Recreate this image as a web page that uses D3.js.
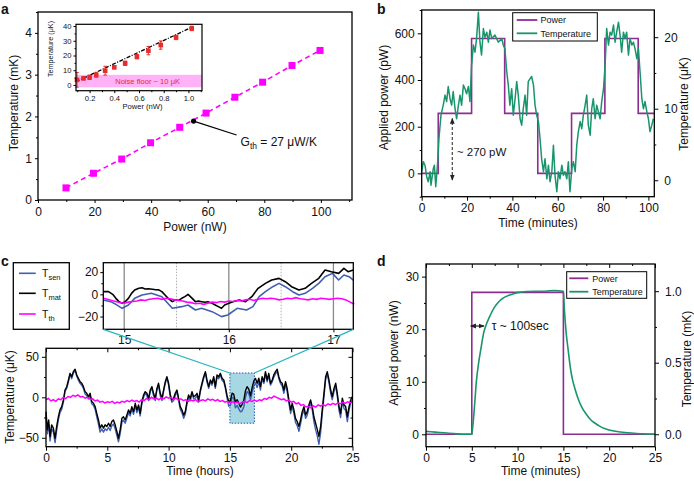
<!DOCTYPE html>
<html><head><meta charset="utf-8">
<script src="https://cdn.jsdelivr.net/npm/d3@7/dist/d3.min.js"></script>
<style>html,body{margin:0;padding:0;background:#fff}</style>
</head><body>
<script>
// ================= DATA =================
// Panel a (main)
const aPower = [9.9,19.6,29.6,39.8,50.1,59.4,69.6,79.4,89.8,99.7];
const aTemp  = [0.29,0.64,0.98,1.37,1.74,2.08,2.46,2.82,3.22,3.58];
const aXTicks = [0,20,40,60,80,100];
const aYTicks = [0,1,2,3,4];
// Panel a (inset)
const aiPower = [0.098,0.151,0.2,0.254,0.326,0.40,0.488,0.583,0.676,0.776,0.9,1.027];
const aiTemp  = [3.5,4.5,5.2,6.8,9.7,12,14.7,19.2,23.3,27.1,32.3,38.4];
const aiErr   = [5,1,1.5,1.5,3,1,1.5,1.5,2.8,2.8,1.5,1.5];
const aiFitP  = [0.09,1.03];
const aiFitT  = [2.2,39.3];
const aiXTicks = [0.2,0.4,0.6,0.8,1.0];
const aiYTicks = [0,10,20,30,40];
// Panel b
const bStepTime  = [0,7.3,22.0,36.6,51.2,66.1,80.8,95.5,102.6];
const bStepPower = [0,257,578,257,0,257,578,257,257];
const bTime = [0,0.7,1.45,2.2,2.9,3.7,4.1,5.1,5.6,6.2,
 7.0,7.6,8.5,9.5,10.3,11.0,11.7,12.5,13.2,13.9,
 14.7,15.4,16.2,16.9,17.6,18.4,19.1,19.8,20.6,21.3,
 22.0,22.8,23.5,24.2,25.0,25.7,26.4,27.2,27.9,28.7,
 29.4,30.1,30.9,32.3,33.8,35.3,36.0,36.7,37.5,38.2,
 38.9,39.7,40.4,41.2,41.9,42.6,43.4,44.1,44.8,45.6,
 46.3,47.0,47.8,48.5,49.3,50.0,50.7,51.5,52.2,52.9,
 53.7,54.4,55.2,55.9,56.6,57.4,58.1,58.8,59.6,60.3,
 61.0,61.8,62.5,63.2,64.0,64.7,65.4,66.2,66.9,67.7,
 68.4,69.1,69.9,70.6,71.3,72.1,72.8,73.5,74.3,75.0,
 75.7,76.5,77.2,77.9,78.7,79.4,80.2,80.9,81.6,82.4,
 83.1,83.8,84.6,85.3,86.0,86.8,87.5,88.2,89.0,89.7,
 90.4,91.2,91.9,92.7,93.4,94.1,94.9,95.6,96.3,97.1,
 97.8,98.5,99.3,100.0,100.7,101.5,102.2];
const bTemp = [1.2,2.6,2.1,0.5,-0.2,1.2,-0.7,1.6,2.1,-0.9,
 2.3,5.8,9.1,10.5,11.9,11.0,13.1,11.4,10.5,12.4,
 10.0,8.6,10.5,11.9,10.5,13.3,12.8,12.1,13.1,11.0,
 16.1,18.9,17.9,19.8,23.5,19.3,17.5,21.2,20.0,20.7,
 19.3,21.0,19.8,20.3,19.3,19.8,18.9,18.4,15.2,13.3,
 10.5,12.8,9.1,11.4,13.8,11.9,8.6,7.7,10.0,11.9,
 9.1,13.8,14.2,14.5,13.3,10.5,9.1,8.2,5.8,3.0,
 1.2,3.0,0.2,2.1,-0.2,1.2,4.9,0.7,-1.6,1.2,
 0.2,2.1,0.7,1.2,0.2,2.6,-1.6,1.6,2.6,1.2,
 4.9,6.8,8.2,7.2,9.1,10.5,11.9,7.7,6.3,10.0,
 11.4,8.6,10.5,9.6,8.6,11.0,12.8,16.1,21.2,18.9,
 20.7,20.3,21.7,19.3,20.7,22.1,20.3,17.9,20.7,19.8,
 20.7,17.5,19.8,18.9,19.3,18.4,17.0,18.4,15.2,11.4,
 10.0,11.0,9.6,8.6,6.8,7.7,8.6];
const bXTicks = [0,20,40,60,80,100];
const bYLTicks = [0,200,400,600];
const bYRTicks = [0,10,20];
// Panel c (main)
const cHours = [0.00,0.11,0.22,0.33,0.46,0.60,0.74,0.87,1.01,1.14,
 1.28,1.42,1.55,1.69,1.83,1.96,2.10,2.23,2.37,2.51,
 2.64,2.78,2.92,3.05,3.19,3.32,3.46,3.60,3.73,3.87,
 4.01,4.14,4.28,4.41,4.55,4.69,4.82,4.96,5.10,5.23,
 5.37,5.50,5.64,5.78,5.91,6.05,6.19,6.32,6.46,6.59,
 6.73,6.87,7.00,7.14,7.28,7.41,7.55,7.68,7.82,7.96,
 8.09,8.23,8.37,8.50,8.64,8.77,8.91,9.05,9.18,9.32,
 9.46,9.59,9.73,9.86,10.00,10.14,10.27,10.41,10.54,10.68,
 10.82,10.95,11.09,11.23,11.36,11.50,11.63,11.77,11.91,12.04,
 12.18,12.32,12.45,12.59,12.72,12.86,13.00,13.13,13.27,13.41,
 13.54,13.68,13.81,13.95,14.09,14.22,14.36,14.50,14.63,14.77,
 14.90,15.04,15.18,15.31,15.45,15.59,15.72,15.86,15.99,16.13,
 16.27,16.40,16.54,16.68,16.81,16.95,17.08,17.22,17.36,17.49,
 17.63,17.77,17.90,18.04,18.17,18.31,18.45,18.58,18.72,18.86,
 18.99,19.13,19.26,19.40,19.54,19.67,19.81,19.95,20.08,20.22,
 20.35,20.49,20.63,20.76,20.90,21.04,21.17,21.31,21.44,21.58,
 21.72,21.85,21.99,22.13,22.26,22.40,22.53,22.67,22.81,22.94,
 23.08,23.22,23.35,23.49,23.63,23.76,23.90,24.03,24.17,24.31,
 24.44,24.58,24.72,24.85,25.00];
const cMat = [-17.7,-40,-28,-48.6,-34,-38,-50.6,-36,-24,-15.6,
 -11.5,-3.3,9,13,21.4,29.6,25.5,31.7,34.6,27.6,
 23.5,19.3,17.3,13.2,7,4.9,0.8,4.9,-5.3,-7.4,
 -11.5,-19.8,-28,-38,-34,-38,-34,-36,-32,-36,
 -30,-28,-34,-42,-50.6,-40,-26,-24,-28,-22,
 -15.6,-19.8,-11.5,-17.7,-7.4,-15.6,-9.5,-19.8,-5.3,2.9,
 7,4.9,-1.2,9,13.2,4.9,-1.2,11,17.3,4.9,
 -1.2,9,19.3,25.5,17.3,2.9,-3.3,-1.2,4.9,9,
 -1.2,-11.5,-15.6,-22,-17.7,-5.3,2.9,-1.2,7,0.8,
 2,4.9,-3.3,9,17.3,25.5,31.7,21.4,13.2,21.4,
 17.3,25.5,13.2,27.6,25.5,29.6,23.5,21.4,13.2,2,
 -5,-4,5,4,-6,-3,-7,-12,-9,-4,
 8,13,10,2,12,20,23.5,17.3,23.5,13.2,
 25.5,19.3,31.7,21.4,29.6,17.3,21.4,27.6,31.7,34.6,
 25.5,19.3,17.3,9,19.3,11,-3.3,-15.6,-7.4,-15.6,
 -26,-30,-36,-28,-17.7,-11.5,-21.8,-17.7,-9.5,-3.3,
 -11.5,-24,-32,-40,-48.6,-36,-15.6,4.9,25.5,31.7,
 21.4,9,0.8,11,17.3,4.9,-11.5,-19.8,-1.2,-9.5,
 -11.5,-24,-11.5,-3.3,0.8];
const cSen = [-22,-45,-33,-54,-39,-43,-56,-41,-28,-19,
 -15,-6,7,11,19,28,23,30,33,26,
 21,17,15,11,4,2,-2,2,-8,-10,
 -15,-24,-33,-43,-39,-43,-39,-41,-37,-41,
 -35,-33,-39,-47,-55,-45,-31,-28,-32,-26,
 -19,-23,-14,-21,-10,-19,-12,-23,-8,0,
 5,2,-4,7,11,2,-4,9,15,2,
 -4,7,17,24,15,0,-6,-4,2,7,
 -4,-15,-19,-26,-21,-8,0,-4,5,-2,
 -1,2,-6,7,15,23,30,19,11,19,
 15,23,11,25,23,28,21,19,11,-1,
 -11,-10,0,-1,-13,-10,-14,-18,-17,-12,
 0,7,5,-3,6,14,18,12,19,9,
 23,17,29,19,27,15,19,25,29,32,
 23,17,14,5,16,7,-7,-20,-11,-20,
 -31,-35,-42,-33,-22,-15,-26,-22,-13,-7,
 -16,-30,-40,-48,-58,-44,-21,0,22,29,
 18,5,-3,7,14,1,-16,-25,-5,-14,
 -16,-30,-16,-7,-3];
const cThStart = 0, cThStep = 0.2;
const cTh = [-3,-1.5,-4.5,-3,-5,-2,-3,0,-1.5,1,
 0,2.5,1,3,0.5,1,-1,0,-2.5,-2,
 -4.5,-3.5,-6,-5,-7,-5.5,-6.5,-5,-7.5,-6,
 -7,-5,-6,-4,-5.5,-3.5,-5,-4,-6,-3,
 -4,-1.5,-3,0,-2,-1,-3,-0.5,-2,0.5,
 -1,0,-2.5,-1,-3.5,-2,-4,-3,-5,-3.5,
 -4.5,-3,-5.5,-4,-3,-4.5,-2,-3.5,-2.5,-4.5,
 -3,-5,-4,-6,-5,-7,-5.5,-7,-6,-8,
 -6,-5,-6.5,-4,-5,-3.5,-5,-3,-4,-1.5,
 -2.5,0,-1,1.5,0,-1.5,-3,-2,-4.5,-3.5,
 -6,-5,-8,-7,-10,-9,-12,-11,-13,-10.5,
 -12,-9.5,-11,-9,-10.5,-8,-9.5,-7.5,-9,-7,
 -8,-6,-7.5,-5.5,-7,-6];
const cXTicks = [0,5,10,15,20,25];
const cYTicks = [-50,0,50];
const cZoomHours = [15,17];
const cZoomTemp = [-32,30];
// Panel c (inset)
const ciMatH = [14.80,14.85,14.89,14.92,14.95,14.98,15.01,15.04,15.07,15.10,
 15.14,15.17,15.20,15.23,15.27,15.30,15.33,15.36,15.39,15.42,
 15.46,15.49,15.52,15.55,15.58,15.61,15.65,15.68,15.71,15.74,
 15.77,15.80,15.84,15.87,15.90,15.93,15.96,16.00,16.04,16.10,
 16.16,16.22,16.28,16.35,16.41,16.48,16.54,16.60,16.67,16.73,
 16.79,16.86,16.92,16.98,17.05,17.10,17.14,17.19];
const ciMat = [2.4,2.4,0,-3.6,-6.6,-8.1,-6.6,-3.6,0.9,3.9,
 5.4,6,4.8,5,4.6,4.2,4,2.4,-0.6,-3.6,
 -6.6,-5.1,-5.4,-3.6,-2.1,0,-3.6,-6.6,-6,-6.6,
 -7.2,-6.6,-8.1,-9.6,-11.1,-12.6,-9.6,-8,-6.6,-5.1,
 -6.6,-2.1,5.4,9.9,12.9,14.4,11.4,6.9,3.9,5.4,
 9.9,14.4,21.9,20.4,18.9,23.4,20.4,21.9];
const ciSenH = [14.80,14.87,14.92,14.98,15.04,15.10,15.17,15.26,15.36,15.46,
 15.55,15.61,15.68,15.74,15.84,15.93,15.99,16.08,16.17,16.23,
 16.29,16.35,16.42,16.48,16.54,16.61,16.67,16.73,16.80,16.86,
 16.92,16.99,17.05,17.10,17.15,17.19];
const ciSen = [-5.1,-6.6,-9,-12.6,-9.6,-3.6,-0.6,0.9,-2.1,-12.6,
 -11.1,-9.6,-14.1,-12.6,-15.6,-20.1,-18.6,-12.6,-14.1,-11.1,
 -2.1,2.4,6.9,9.9,6.9,2.4,-0.6,0.9,5.4,9.9,
 15.9,18.9,12.9,17.4,15.9,12.9];
const ciThStart = 14.8, ciThStep = 0.04;
const ciTh = [-3.6,-4.5,-5.5,-6.5,-7.5,-8,-7,-6.5,-6,-5,
 -5.5,-4.5,-4,-3.5,-4.5,-3.5,-4,-5,-5.5,-6,
 -7,-7.5,-8.5,-8,-9,-8,-7,-7.5,-6.5,-7,
 -6,-6.5,-5.5,-6,-5,-4.5,-5.5,-4.5,-3.5,-4,
 -3.5,-4,-5,-4.5,-3.5,-4,-3,-4,-4.5,-5,
 -4,-4.5,-3.5,-4,-4.5,-4,-3.5,-4,-5,-7,-9];
const ciXTicks = [15,16,17];
const ciYTicks = [-20,0,20];
const ciSolidLines = [15,16,17];
const ciDottedLines = [15.5,16.5];
// Panel d
const dStepTime  = [0,5,15,25];
const dStepPower = [0,27,0,0];
const dTime = [0,1,2,3,4,5,5.1,5.3,5.5,5.75,6,6.3,6.6,7,7.5,8,
 8.5,9,9.5,10,11,12,13,14,15,15.1,15.3,15.5,15.75,16,16.3,16.6,17,17.5,18,
 18.5,19,19.5,20,21,22,23,24,25];
const dTemp = [0.02,0.015,0.01,0.005,0.0,0.0,0.05,0.2,0.37,0.5,0.6,0.71,0.77,0.83,0.89,0.93,
 0.955,0.97,0.98,0.99,0.998,1.0,1.0,1.005,1.0,0.88,0.71,0.6,0.47,0.38,0.31,0.25,0.19,0.14,0.1,
 0.075,0.055,0.04,0.03,0.018,0.01,0.005,0.002,0.0];
const dXTicks = [0,5,10,15,20,25];
const dYLTicks = [0,10,20,30];
const dYRTicks = [0,0.5,1.0];

// ================= DRAWING =================
const FONT = "'Liberation Sans', Arial, Helvetica, sans-serif";
const MAG = "#ff00ff", PURPLE = "#8e2c90", GREEN = "#18956b", BLUE = "#3f5fb0",
      CYAN = "#29b6c1", RED = "#e82b2b";
const svg = d3.select("body").append("svg").attr("width",694).attr("height",481)
  .style("font-family", FONT).style("background","#fff");

const defs = svg.append("defs");
defs.append("marker").attr("id","ah").attr("viewBox","0 0 8 8").attr("refX",7).attr("refY",4)
  .attr("markerWidth",6).attr("markerHeight",6).attr("orient","auto-start-reverse")
  .attr("markerUnits","userSpaceOnUse")
  .append("path").attr("d","M0,0.8 L8,4 L0,7.2 Z").attr("fill","#222");

function axis(fn, scale, tr, major, minor, fmt, fs, o = {}) {
  const len = o.len ?? 4, mlen = o.mlen ?? 2, pad = o.pad ?? 3;
  const a = fn(scale).tickValues(major).tickSize(len).tickSizeOuter(0).tickPadding(pad)
    .tickFormat(fmt === null ? () => "" : (fmt || (d => d3.format("")(d))));
  const G = svg.append("g").attr("transform", tr).call(a);
  G.select(".domain").remove();
  G.attr("font-family", FONT);
  G.selectAll(".tick line").attr("stroke","#000").attr("stroke-width",1);
  G.selectAll(".tick text").attr("font-size", fs).attr("fill","#111");
  if (minor && minor.length) {
    const m = fn(scale).tickValues(minor).tickSize(mlen).tickSizeOuter(0).tickFormat(() => "");
    const M = svg.append("g").attr("transform", tr).call(m);
    M.select(".domain").remove();
    M.selectAll(".tick line").attr("stroke","#000").attr("stroke-width",1);
  }
}
function frame(x, y, opts = {}) {
  const [x0,x1] = x.range(), [y0,y1] = y.range();
  svg.append("rect").attr("x",Math.min(x0,x1)).attr("y",Math.min(y0,y1))
    .attr("width",Math.abs(x1-x0)).attr("height",Math.abs(y1-y0))
    .attr("fill", opts.fill || "none").attr("stroke","#000").attr("stroke-width", opts.sw || 1.3);
}
function text(x, y, s, fs, o = {}) {
  const t = svg.append("text").attr("x",x).attr("y",y).attr("font-size",fs)
    .attr("text-anchor", o.anchor || "start").attr("fill", o.fill || "#111").text(s);
  if (o.weight) t.attr("font-weight", o.weight);
  return t;
}
function rtext(x, y, s, fs) {
  return svg.append("text").attr("transform",`translate(${x},${y}) rotate(-90)`)
    .attr("font-size",fs).attr("text-anchor","middle").attr("fill","#111").text(s);
}
function minorOf(lo, hi, step, major) {
  return d3.range(lo, hi + step/2, step).filter(v => !major.some(m => Math.abs(m - v) < 1e-9));
}

// ---------------- Panel a ----------------
const xa = d3.scaleLinear([0,111],[38,352]);
const ya = d3.scaleLinear([0,4.5],[200,12]);
axis(d3.axisBottom, xa, "translate(0,200)", aXTicks, minorOf(10,110,10,aXTicks), undefined, 12, {len:3, pad:4});
axis(d3.axisLeft, ya, "translate(38,0)", aYTicks, minorOf(0.5,4.5,0.5,aYTicks), undefined, 12, {len:3, pad:3});
svg.append("path").datum(aPower.map((p,i)=>[p,aTemp[i]]))
  .attr("d", d3.line().x(d=>xa(d[0])).y(d=>ya(d[1])))
  .attr("fill","none").attr("stroke",MAG).attr("stroke-width",1.6).attr("stroke-dasharray","5,3.5");
svg.selectAll(".asq").data(aPower).enter().append("rect")
  .attr("x",(d)=>xa(d)-3.5).attr("y",(d,i)=>ya(aTemp[i])-3.5).attr("width",7).attr("height",7).attr("fill",MAG);
frame(xa, ya);
// annotation
svg.append("line").attr("x1",xa(55)).attr("y1",ya(1.89)).attr("x2",xa(70.2)).attr("y2",ya(1.556))
  .attr("stroke","#000").attr("stroke-width",1.3);
svg.append("circle").attr("cx",xa(55)).attr("cy",ya(1.89)).attr("r",2.6).attr("fill","#000");
{
  const t = text(xa(71.6), ya(1.29), "", 12);
  t.append("tspan").text("G");
  t.append("tspan").attr("font-size",8.5).attr("dy",3).text("th");
  t.append("tspan").attr("dy",-3).text(" = 27 \u03bcW/K");
}
rtext(18, 103, "Temperature (mK)", 12);
text(195, 231, "Power (nW)", 12, {anchor:"middle"});
text(1, 14, "a", 14, {weight:"bold"});

// inset a
const xi = d3.scaleLinear([0.09,1.11],[76,202]);
const yi = d3.scaleLinear([-3.9,41.2],[90.7,24.3]);
svg.append("rect").attr("x",76).attr("y",24.3).attr("width",126).attr("height",66.4).attr("fill","#fff");
svg.append("rect").attr("x",xi(0.09)).attr("y",yi(6.9)).attr("width",xi(1.11)-xi(0.09)).attr("height",yi(-1.6)-yi(6.9))
  .attr("fill","#ffb3f6");
text(xi(0.67), yi(0.9), "Noise floor ~ 10 \u03bcK", 7.6, {anchor:"middle", fill:RED});
svg.append("line").attr("x1",xi(aiFitP[0])).attr("y1",yi(aiFitT[0])).attr("x2",xi(aiFitP[1])).attr("y2",yi(aiFitT[1]))
  .attr("stroke","#000").attr("stroke-width",1.3).attr("stroke-dasharray","4,1.5,1,1.5");
aiPower.forEach((p,i)=>{
  const cx = xi(p);
  svg.append("line").attr("x1",cx).attr("x2",cx).attr("y1",yi(aiTemp[i]-aiErr[i])).attr("y2",yi(aiTemp[i]+aiErr[i]))
    .attr("stroke",RED).attr("stroke-width",1);
  [aiTemp[i]-aiErr[i], aiTemp[i]+aiErr[i]].forEach(v=>svg.append("line").attr("x1",cx-1.8).attr("x2",cx+1.8)
    .attr("y1",yi(v)).attr("y2",yi(v)).attr("stroke",RED).attr("stroke-width",1));
  svg.append("rect").attr("x",cx-2.3).attr("y",yi(aiTemp[i])-2.3).attr("width",4.6).attr("height",4.6).attr("fill",RED);
});
axis(d3.axisBottom, xi, "translate(0,90.7)", aiXTicks, minorOf(0.1,1.1,0.1,aiXTicks), d3.format(".1f"), 7.6, {len:2.5, mlen:1.5, pad:2});
axis(d3.axisLeft, yi, "translate(76,0)", aiYTicks, [5,15,25,35], undefined, 7.6, {len:2.5, mlen:1.5, pad:2});
frame(xi, yi, {sw:1.2});
text(142.5, 109, "Power (nW)", 7.6, {anchor:"middle"});
rtext(53, 49, "Temperature (\u03bcK)", 7.2);

// ---------------- Panel b ----------------
const xb = d3.scaleLinear([0,102.6],[421.7,654.3]);
const ybL = d3.scaleLinear([-100,700],[196.7,10]);
const ybR = d3.scaleLinear([-2.3,23.8],[196.7,10]);
axis(d3.axisBottom, xb, "translate(0,196.7)", bXTicks, [10,30,50,70,90], undefined, 12, {len:4, pad:3});
axis(d3.axisLeft, ybL, "translate(421.7,0)", bYLTicks, [-100,100,300,500,700], undefined, 12, {len:4, pad:3});
axis(d3.axisRight, ybR, "translate(654.3,0)", bYRTicks, [5,15], undefined, 12, {len:4, pad:6});
svg.append("path").datum(bStepTime.map((t,i)=>[t,bStepPower[i]]))
  .attr("d", d3.line().curve(d3.curveStepAfter).x(d=>xb(d[0])).y(d=>ybL(d[1])))
  .attr("fill","none").attr("stroke",PURPLE).attr("stroke-width",1.6);
svg.append("path").datum(bTime.map((t,i)=>[t,bTemp[i]]))
  .attr("d", d3.line().x(d=>xb(d[0])).y(d=>ybR(d[1])))
  .attr("fill","none").attr("stroke",GREEN).attr("stroke-width",1.5).attr("stroke-linejoin","round");
frame(xb, ybL);
// arrow
svg.append("line").attr("x1",xb(13.5)).attr("x2",xb(13.5)).attr("y1",ybL(-28)).attr("y2",ybL(235))
  .attr("stroke","#444").attr("stroke-width",1.2).attr("stroke-dasharray","3,2")
  .attr("marker-start","url(#ah)").attr("marker-end","url(#ah)");
text(xb(15.5), ybL(74), "~ 270 pW", 11.5);
// legend
svg.append("rect").attr("x",512.7).attr("y",12.7).attr("width",84.6).attr("height",28.3)
  .attr("fill","#fff").attr("stroke","#000").attr("stroke-width",1);
[["Power",PURPLE,20],["Temperature",GREEN,33.3]].forEach(([s,c,y])=>{
  svg.append("line").attr("x1",516.7).attr("x2",537.3).attr("y1",y).attr("y2",y).attr("stroke",c).attr("stroke-width",1.8);
  text(540.5, y+3.2, s, 9);
});
rtext(387.7, 97.5, "Applied power (pW)", 12);
rtext(688, 104, "Temperature (\u03bcK)", 12);
text(538, 227, "Time (minutes)", 12, {anchor:"middle"});
text(377, 14, "b", 14, {weight:"bold"});

// ---------------- Panel c (main) ----------------
const xc = d3.scaleLinear([0,25],[46,352.5]);
const yc = d3.scaleLinear([-61,60.5],[446.7,348.3]);
svg.append("rect").attr("x",xc(cZoomHours[0])).attr("y",yc(cZoomTemp[1]))
  .attr("width",xc(cZoomHours[1])-xc(cZoomHours[0])).attr("height",yc(cZoomTemp[0])-yc(cZoomTemp[1]))
  .attr("fill","#a6d7e2").attr("stroke","#2f56b0").attr("stroke-width",1).attr("stroke-dasharray","1.5,1.5");
const cLine = d3.line().x(d=>xc(d[0])).y(d=>yc(d[1]));
svg.append("path").datum(cHours.map((h,i)=>[h,cSen[i]])).attr("d",cLine)
  .attr("fill","none").attr("stroke",BLUE).attr("stroke-width",1.4).attr("stroke-linejoin","round");
svg.append("path").datum(cHours.map((h,i)=>[h,cMat[i]])).attr("d",cLine)
  .attr("fill","none").attr("stroke","#000").attr("stroke-width",1.4).attr("stroke-linejoin","round");
svg.append("path").datum(cTh.map((v,i)=>[cThStart+i*cThStep,v])).attr("d",cLine)
  .attr("fill","none").attr("stroke",MAG).attr("stroke-width",1.5);
axis(d3.axisBottom, xc, "translate(0,446.7)", cXTicks, minorOf(2.5,22.5,5,[]), undefined, 12, {len:4, pad:3});
axis(d3.axisLeft, yc, "translate(46,0)", cYTicks, [-25,25], undefined, 12, {len:4, pad:3});
axis(d3.axisTop, xc, "translate(0,348.3)", cXTicks, minorOf(2.5,22.5,5,[]), null, 12, {len:-4, mlen:-2});
axis(d3.axisRight, yc, "translate(352.5,0)", cYTicks, [-25,25], null, 12, {len:-4, mlen:-2});
frame(xc, yc);
rtext(14, 397, "Temperature (\u03bcK)", 12);
text(200, 475, "Time (hours)", 12, {anchor:"middle"});
text(1, 266, "c", 14, {weight:"bold"});

// ---------------- Panel c (inset) ----------------
const xci = d3.scaleLinear([14.8,17.19],[103.3,353.3]);
const yci = d3.scaleLinear([-31.5,28.5],[329.3,262.7]);
ciSolidLines.forEach(h=>svg.append("line").attr("x1",xci(h)).attr("x2",xci(h)).attr("y1",262.7).attr("y2",329.3)
  .attr("stroke","#8a8a8a").attr("stroke-width",1.3));
ciDottedLines.forEach(h=>svg.append("line").attr("x1",xci(h)).attr("x2",xci(h)).attr("y1",262.7).attr("y2",329.3)
  .attr("stroke","#b0b0b0").attr("stroke-width",1).attr("stroke-dasharray","1.5,1.5"));
const ciLine = d3.line().x(d=>xci(d[0])).y(d=>yci(d[1]));
svg.append("path").datum(ciSenH.map((h,i)=>[h,ciSen[i]])).attr("d",ciLine)
  .attr("fill","none").attr("stroke",BLUE).attr("stroke-width",1.6).attr("stroke-linejoin","round");
svg.append("path").datum(ciMatH.map((h,i)=>[h,ciMat[i]])).attr("d",ciLine)
  .attr("fill","none").attr("stroke","#000").attr("stroke-width",1.6).attr("stroke-linejoin","round");
svg.append("path").datum(ciTh.map((v,i)=>[ciThStart+i*ciThStep,v])).attr("d",ciLine)
  .attr("fill","none").attr("stroke",MAG).attr("stroke-width",1.6);
axis(d3.axisBottom, xci, "translate(0,329.3)", ciXTicks, [], undefined, 12, {len:3, pad:3});
axis(d3.axisLeft, yci, "translate(103.3,0)", ciYTicks, [-10,10], undefined, 12, {len:3, pad:2});
frame(xci, yci);
// connector lines
svg.append("line").attr("x1",xc(cZoomHours[0])).attr("y1",yc(cZoomTemp[1])).attr("x2",xci(14.8)).attr("y2",yci(-31.5))
  .attr("stroke",CYAN).attr("stroke-width",1.3);
svg.append("line").attr("x1",xc(cZoomHours[1])).attr("y1",yc(cZoomTemp[1])).attr("x2",xci(17.19)).attr("y2",yci(-31.5))
  .attr("stroke",CYAN).attr("stroke-width",1.3);
// legend c
svg.append("rect").attr("x",13.3).attr("y",262.7).attr("width",56).attr("height",66.6)
  .attr("fill","#fff").attr("stroke","#000").attr("stroke-width",1.3);
[["sen",BLUE,273.3],["mat","#000",293.3],["th",MAG,314]].forEach(([s,c,y])=>{
  svg.append("line").attr("x1",19).attr("x2",35.7).attr("y1",y).attr("y2",y).attr("stroke",c).attr("stroke-width",1.6);
  const t = text(42, y+3.5, "", 10.5);
  t.append("tspan").text("T");
  t.append("tspan").attr("font-size",7.5).attr("dy",3).text(s);
});

// ---------------- Panel d ----------------
const xd = d3.scaleLinear([0,25],[426,655]);
const ydL = d3.scaleLinear([-2.36,32.4],[446.7,264]);
const ydR = d3.scaleLinear([-0.087,1.19],[446.7,264]);
svg.append("path").datum(dStepTime.map((t,i)=>[t,dStepPower[i]]))
  .attr("d", d3.line().curve(d3.curveStepAfter).x(d=>xd(d[0])).y(d=>ydL(d[1])))
  .attr("fill","none").attr("stroke",PURPLE).attr("stroke-width",1.6);
svg.append("path").datum(dTime.map((t,i)=>[t,dTemp[i]]))
  .attr("d", d3.line().curve(d3.curveMonotoneX).x(d=>xd(d[0])).y(d=>ydR(d[1])))
  .attr("fill","none").attr("stroke",GREEN).attr("stroke-width",1.6);
axis(d3.axisBottom, xd, "translate(0,446.7)", dXTicks, minorOf(2.5,22.5,5,[]), undefined, 12, {len:4, pad:3});
axis(d3.axisLeft, ydL, "translate(426,0)", dYLTicks, [5,15,25], undefined, 12, {len:4, pad:3});
axis(d3.axisRight, ydR, "translate(655,0)", dYRTicks, [0.25,0.75], d3.format(".1f"), 12, {len:4, pad:6});
axis(d3.axisTop, xd, "translate(0,264)", dXTicks, minorOf(2.5,22.5,5,[]), null, 12, {len:-4, mlen:-2});
frame(xd, ydL);
svg.append("line").attr("x1",xd(4.88)).attr("x2",xd(6.33)).attr("y1",ydL(20.6)).attr("y2",ydL(20.6))
  .attr("stroke","#222").attr("stroke-width",1.2).attr("marker-start","url(#ah)").attr("marker-end","url(#ah)");
text(xd(7.17), ydL(19.8), "\u03c4  ~ 100sec", 12);
svg.append("rect").attr("x",566.7).attr("y",271.7).attr("width",80).attr("height",26.6)
  .attr("fill","#fff").attr("stroke","#000").attr("stroke-width",1);
[["Power",PURPLE,278.3],["Temperature",GREEN,291.7]].forEach(([s,c,y])=>{
  svg.append("line").attr("x1",569.3).attr("x2",588.3).attr("y1",y).attr("y2",y).attr("stroke",c).attr("stroke-width",1.8);
  text(592.3, y+3.2, s, 9);
});
rtext(398, 353, "Applied power (nW)", 12);
rtext(691, 359, "Temperature (mK)", 12);
text(540.7, 475, "Time (minutes)", 12, {anchor:"middle"});
text(377, 266, "d", 14, {weight:"bold"});
</script>
</body></html>
